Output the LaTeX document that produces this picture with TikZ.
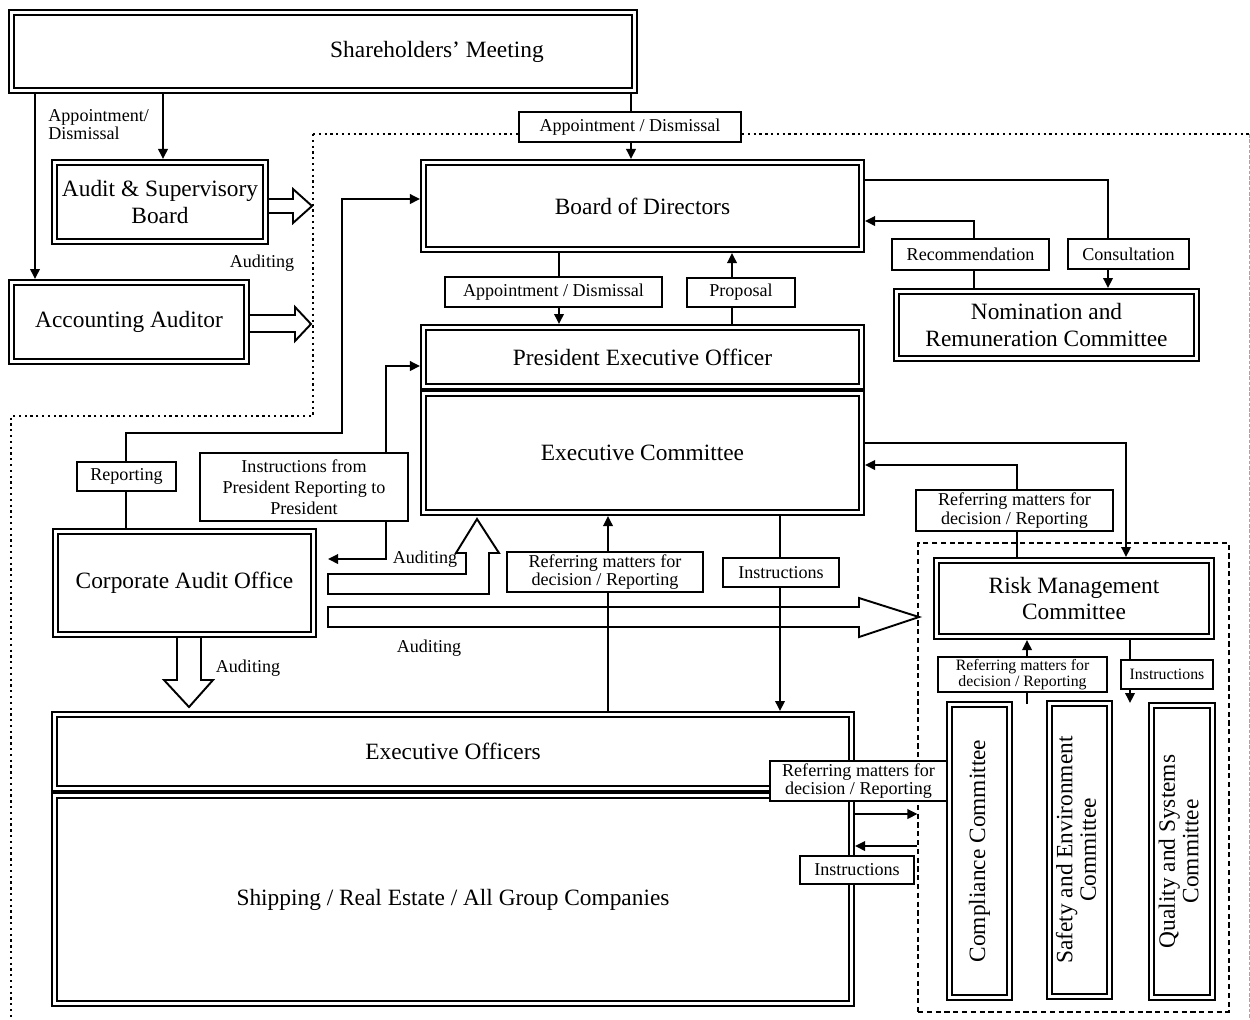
\documentclass[tikz,border=0pt]{standalone}
\usepackage{fontspec}
\setmainfont{Liberation Serif}
\usepackage{tikz}
\usetikzlibrary{arrows.meta}

\newcommand{\pxu}{0.02cm}
\newcommand{\mainfs}{\fontsize{13.3}{15}\selectfont}
\newcommand{\vertfs}{\fontsize{13.3}{13.4}\selectfont}
\newcommand{\lblfs}{\fontsize{10.3}{10.6}\selectfont}
\newcommand{\smallfs}{\fontsize{9}{9.4}\selectfont}

\begin{document}
\begin{tikzpicture}[x=0.02cm, y=-0.02cm,
  dbox/.style={draw, double, line width=1.4pt, double distance=1.3pt, outer sep=2pt,
               align=center, font=\mainfs, inner sep=0pt},
  lbl/.style={draw, fill=white, line width=0.6pt, align=center, font=\lblfs, inner sep=0pt},
  slbl/.style={lbl, font=\smallfs},
  txt/.style={font=\lblfs, inner sep=0pt, align=center},
  ar/.style={-{Triangle[length=2mm, width=1.9mm]}, line width=1.1pt},
  arb/.style={{Triangle[length=2mm, width=1.9mm]}-{Triangle[length=2mm, width=1.9mm]}, line width=1.1pt},
  hol/.style={draw, fill=white, line width=1.1pt, line join=miter},
  dotframe/.style={dotted, line width=1.3pt},
  grp/.style={draw, line width=0.6pt, dash pattern=on 3pt off 2pt, inner sep=0pt}
]
\useasboundingbox (0,0) rectangle (1250,1019);

% --- outer frames -------------------------------------------------------
\draw[dotframe] (313,134) -- (1249,134);
\draw[dotframe] (313,134) -- (313,416) -- (11,416) -- (11,1019);
\draw[gray!70, line width=0.5pt, dash pattern=on 2pt off 1pt] (1249,134) -- (1249,1019);
\node[grp, minimum width=311*\pxu, minimum height=469*\pxu] (rmg) at (1073.5,777.5) {};

% --- bodies -------------------------------------------------------------
\node[dbox, minimum width=623*\pxu, minimum height=78*\pxu] (sh) at (323,51.5) {\hspace*{4.56cm}Shareholders' Meeting};
\node[dbox, minimum width=211*\pxu, minimum height=79*\pxu] (asb) at (160,202) {Audit \& Supervisory\\Board};
\node[dbox, minimum width=235*\pxu, minimum height=79*\pxu] (aa) at (129,322) {Accounting Auditor};
\node[dbox, minimum width=438*\pxu, minimum height=87*\pxu] (bod) at (642.5,206) {Board of Directors};
\node[dbox, minimum width=438*\pxu, minimum height=59*\pxu] (peo) at (642.5,357) {President Executive Officer};
\node[dbox, minimum width=438*\pxu, minimum height=119*\pxu] (ec) at (642.5,453) {Executive Committee};
\node[dbox, minimum width=300*\pxu, minimum height=67*\pxu] (nrc) at (1046.5,325) {Nomination and\\Remuneration Committee};
\node[dbox, minimum width=258*\pxu, minimum height=103*\pxu] (cao) at (184.5,583) {Corporate Audit Office};
\node[dbox, minimum width=797*\pxu, minimum height=74*\pxu] (eo) at (453,751.5) {Executive Officers};
\node[dbox, minimum width=797*\pxu, minimum height=208*\pxu] (sg) at (453,899.5) {Shipping / Real Estate / All Group Companies};
\node[dbox, minimum width=275*\pxu, minimum height=76*\pxu] (rmc) at (1074,598.5) {Risk Management\\Committee};
\node[dbox, minimum width=60*\pxu, minimum height=293*\pxu] (cco) at (979.5,851) {\rotatebox{90}{Compliance Committee}};
\node[dbox, minimum width=60*\pxu, minimum height=293*\pxu] (sec) at (1079.5,850)
  {\rotatebox{90}{\vertfs\begin{tabular}{@{}c@{}}Safety and Environment\\Committee\end{tabular}}};
\node[dbox, minimum width=61*\pxu, minimum height=292*\pxu] (qsc) at (1182,851.5)
  {\rotatebox{90}{\vertfs\begin{tabular}{@{}c@{}}Quality and Systems\\Committee\end{tabular}}};

% --- hollow auditing arrows ---------------------------------------------
\filldraw[hol] (269,199) -- (293,199) -- (293,189) -- (312,206) -- (293,223) -- (293,213) -- (269,213);
\filldraw[hol] (250,315) -- (295,315) -- (295,307) -- (311,324) -- (295,341) -- (295,332) -- (250,332);
\filldraw[hol] (328,574) -- (466,574) -- (466,553) -- (456,553) -- (477,519) -- (499,553)
  -- (489,553) -- (489,594) -- (328,594) -- cycle;
\filldraw[hol] (328,607) -- (859,607) -- (859,598) -- (919,617) -- (859,637) -- (859,627) -- (328,627) -- cycle;
\filldraw[hol] (177,638) -- (177,680) -- (164,680) -- (189,707) -- (213,680) -- (201,680) -- (201,638);

% --- connectors ---------------------------------------------------------
\draw[ar] (sh.south -| 35,0) -- (aa.north -| 35,0);
\draw[ar] (sh.south -| 163,0) -- (asb.north -| 163,0);
\draw[ar] (sh.south -| 631,0) -- (bod.north -| 631,0);
\draw[ar] (bod.south -| 559,0) -- (peo.north -| 559,0);
\draw[ar] (peo.north -| 732,0) -- (bod.south -| 732,0);
\draw[ar] (bod.east |- 0,180) -| (nrc.north -| 1108,0);
\draw[ar] (nrc.north -| 974,0) |- (bod.east |- 0,221);
\draw[ar] (ec.east |- 0,443) -| (rmc.north -| 1126,0);
\draw[ar] (rmc.north -| 1017,0) |- (ec.east |- 0,465);
\draw[ar] (cao.north -| 126,0) |- (342,433) |- (bod.west |- 0,199);
\draw[arb, shorten <=0.22cm] (cao.east |- 0,559) -| (386,366) -- (peo.west |- 0,366);
\draw[ar] (ec.south -| 780,0) -- (eo.north -| 780,0);
\draw[ar] (eo.north -| 608,0) -- (ec.south -| 608,0);
\draw[ar] (eo.east |- 0,814) -- (rmg.west |- 0,814);
\draw[ar] (rmg.west |- 0,846) -- (eo.east |- 0,846);
\coordinate (refEnd) at (1027,704);
\coordinate (instEnd) at (1130,703);
\draw[ar] (refEnd) -- (rmc.south -| 1027,0);
\draw[ar] (rmc.south -| 1130,0) -- (instEnd);

% --- labels -------------------------------------------------------------
\node[lbl, minimum width=222*\pxu, minimum height=30*\pxu] (appA) at (630,127) {Appointment / Dismissal};
\node[lbl, minimum width=217*\pxu, minimum height=30*\pxu] (appB) at (553.5,292) {Appointment / Dismissal};
\node[lbl, minimum width=108*\pxu, minimum height=29*\pxu] (prop) at (741,292.5) {Proposal};
\node[lbl, minimum width=157*\pxu, minimum height=31*\pxu] (recm) at (970.5,254.5) {Recommendation};
\node[lbl, minimum width=121*\pxu, minimum height=30*\pxu] (cons) at (1128.5,254) {Consultation};
\node[lbl, minimum width=197*\pxu, minimum height=41*\pxu] (refR) at (1014.5,510.5) {Referring matters for\\decision / Reporting};
\node[lbl, minimum width=99*\pxu, minimum height=29*\pxu] (rep) at (126.5,476.5) {Reporting};
\node[lbl, minimum width=208*\pxu, minimum height=68*\pxu, font=\fontsize{10.3}{12}\selectfont] (instP) at (304,487)
  {Instructions from\\President Reporting to\\President};
\node[lbl, minimum width=196*\pxu, minimum height=40*\pxu] (refE) at (605,572) {Referring matters for\\decision / Reporting};
\node[lbl, minimum width=116*\pxu, minimum height=29*\pxu] (instE) at (781,572.5) {Instructions};
\node[slbl, minimum width=169*\pxu, minimum height=35*\pxu] (refC) at (1022.5,674.5) {Referring matters for\\decision / Reporting};
\node[slbl, minimum width=92*\pxu, minimum height=29*\pxu] (instC) at (1167,674.5) {Instructions};
\node[lbl, minimum width=177*\pxu, minimum height=40*\pxu] (refO) at (858.5,781) {Referring matters for\\decision / Reporting};
\node[lbl, minimum width=114*\pxu, minimum height=28*\pxu] (instO) at (857,870) {Instructions};

\node[txt, anchor=north west, align=left] (appL) at (48,109) {Appointment/\\Dismissal};
\node[txt] (audA) at (262,263) {Auditing};
\node[txt] (audB) at (425,559) {Auditing};
\node[txt] (audC) at (429,648) {Auditing};
\node[txt] (audD) at (248,668) {Auditing};
\end{tikzpicture}
\end{document}
